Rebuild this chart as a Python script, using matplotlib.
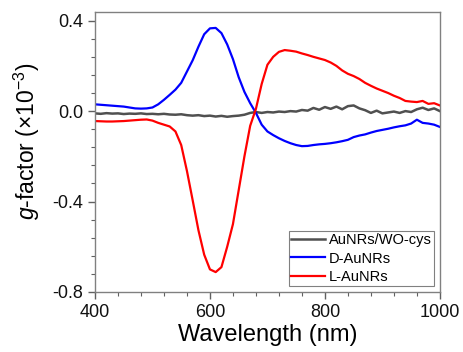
import numpy as np
import matplotlib
matplotlib.use('Agg')
import matplotlib.pyplot as plt
from matplotlib.ticker import MultipleLocator

plt.rcParams['font.family'] = ['Liberation Sans', 'DejaVu Sans']
plt.rcParams['mathtext.fontset'] = 'custom'
plt.rcParams['mathtext.rm'] = 'Liberation Sans'
plt.rcParams['mathtext.it'] = 'Liberation Sans:italic'

wavelength = np.arange(400, 1001, 10)

# AuNRs/WO-cys (gray, near zero)
g_wo = [-0.010, -0.012, -0.009, -0.011, -0.010, -0.013, -0.011, -0.012, -0.010, -0.013,
        -0.012, -0.014, -0.012, -0.015, -0.016, -0.014, -0.018, -0.020, -0.018, -0.022,
        -0.020, -0.024, -0.021, -0.025, -0.022, -0.020, -0.016, -0.008, -0.004, -0.008,
        -0.004, -0.006, -0.002, -0.004, 0.000, -0.002, 0.005, 0.002, 0.014, 0.006,
        0.018, 0.010, 0.020, 0.008, 0.022, 0.025, 0.012, 0.004, -0.008, 0.002,
        -0.010, -0.006, -0.002, -0.008, 0.000, -0.004, 0.008, 0.015, 0.005, 0.012,
        0.000]

# D-AuNRs (blue)
g_d = [0.030, 0.028, 0.026, 0.024, 0.022, 0.020, 0.016, 0.012, 0.011, 0.012,
       0.016, 0.030, 0.050, 0.072, 0.095, 0.125, 0.175, 0.225, 0.285, 0.340,
       0.366, 0.368, 0.345, 0.295, 0.230, 0.150, 0.085, 0.035, -0.008, -0.060,
       -0.090, -0.106, -0.120, -0.132, -0.142, -0.150, -0.155, -0.154, -0.150, -0.147,
       -0.145, -0.142, -0.138, -0.133, -0.127, -0.115, -0.108, -0.103, -0.095, -0.088,
       -0.083, -0.078, -0.072, -0.067, -0.063, -0.055, -0.038, -0.052, -0.055, -0.060,
       -0.070]

# L-AuNRs (red)
g_l = [-0.044, -0.045, -0.046, -0.046, -0.045, -0.044, -0.042, -0.040, -0.038, -0.037,
       -0.042, -0.052, -0.060, -0.068, -0.090, -0.150, -0.265, -0.395, -0.527, -0.635,
       -0.700, -0.712, -0.690, -0.600, -0.500, -0.350, -0.200, -0.065, 0.010, 0.120,
       0.205, 0.240, 0.262, 0.270, 0.267, 0.263, 0.255, 0.248, 0.240, 0.233,
       0.226, 0.215, 0.200, 0.180, 0.165, 0.155, 0.142, 0.125, 0.112, 0.100,
       0.090, 0.080, 0.068, 0.058, 0.045, 0.042, 0.040, 0.045, 0.032, 0.035,
       0.025]

fig = plt.figure(figsize=(4.64, 3.52), dpi=100)
ax = fig.add_axes([0.2047, 0.1705, 0.7433, 0.7955])

ax.plot(wavelength, g_wo, color='#505050', lw=1.8, label='AuNRs/WO-cys')
ax.plot(wavelength, g_d, color='#0000ff', lw=1.6, label='D-AuNRs')
ax.plot(wavelength, g_l, color='#ff0000', lw=1.6, label='L-AuNRs')

ax.set_xlim(400, 1000)
ax.set_ylim(-0.8, 0.4385)
ax.set_xticks([400, 600, 800, 1000])
ax.set_yticks([-0.8, -0.4, 0.0, 0.4])
ax.set_yticklabels(['-0.8', '-0.4', '0.0', '0.4'])
ax.xaxis.set_minor_locator(MultipleLocator(40))
ax.yaxis.set_minor_locator(MultipleLocator(0.08))

for s in ax.spines.values():
    s.set_color('#808080')
    s.set_linewidth(1.0)
ax.tick_params(which='both', direction='out', top=False, right=False,
               color='#606060', labelsize=13, labelcolor='#111111')
ax.tick_params(which='major', length=5, width=1.0)
ax.tick_params(which='minor', length=3, width=0.8)

ax.set_xlabel('Wavelength (nm)', fontsize=17, labelpad=2)
ax.set_ylabel(r'$g$-factor ($\times$10$^{-3}$)', fontsize=16.5)
ax.yaxis.set_label_coords(-0.155, 0.54)

leg = ax.legend(loc='lower right', fontsize=10.5, handlelength=2.3,
                labelspacing=0.3, borderaxespad=0.4, borderpad=0.15,
                fancybox=False, framealpha=1, edgecolor='#808080',
                handletextpad=0.3)
leg.get_frame().set_linewidth(0.8)

fig.savefig('out.png', dpi=100)
